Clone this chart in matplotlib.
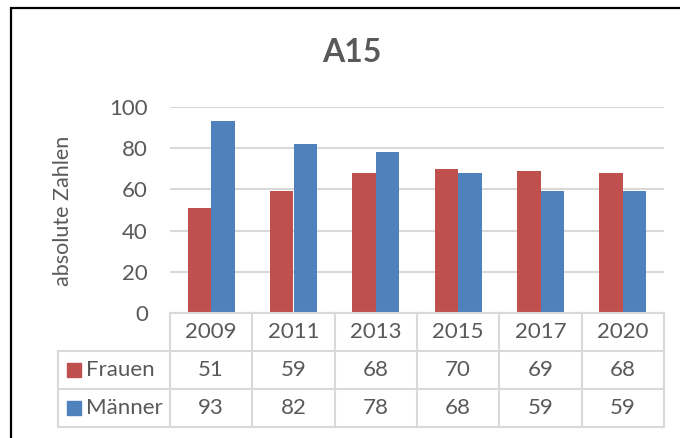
import matplotlib.pyplot as plt
from matplotlib.patches import Rectangle

years = ["2009", "2011", "2013", "2015", "2017", "2020"]
frauen = [51, 59, 68, 70, 69, 68]
maenner = [93, 82, 78, 68, 59, 59]
series_names = ["Frauen", "Männer"]

RED = "#C0504D"
BLUE = "#4F81BD"
GRID = "#D9D9D9"
TXT = "#595959"
FS = 16

plt.rcParams["font.family"] = ["Lato", "DejaVu Sans"]

W, H = 680, 438
fig = plt.figure(figsize=(W / 100, H / 100), dpi=100)


def px_box(x0, y0, x1, y1):
    # pixel box (top-left origin) -> figure fraction [l, b, w, h]
    return [x0 / W, (H - y1) / H, (x1 - x0) / W, (y1 - y0) / H]


# outer frame
fig.add_artist(Rectangle((11 / W, -0.2), 1.2, (H - 8) / H + 0.2,
                         transform=fig.transFigure, fill=False,
                         edgecolor="black", linewidth=1.6))

fig.text(352 / W, 1 - 53 / H, "A15", ha="center", va="center",
         fontsize=23, fontweight="bold", color=TXT)

# ---- bars ----
ax = fig.add_axes(px_box(170, 107, 664, 313))
x = list(range(len(years)))
bw = 0.286
ax.bar([i - bw / 2 for i in x], frauen, width=bw, color=RED, zorder=2)
ax.bar([i + bw / 2 for i in x], maenner, width=bw, color=BLUE, zorder=2)
ax.set_xlim(-0.5, len(years) - 0.5)
ax.set_ylim(0, 100)
ax.set_yticks(range(0, 101, 20))
ax.set_xticks([])
ax.tick_params(axis="y", length=0, pad=16, labelsize=FS, labelcolor=TXT)
ax.grid(axis="y", color=GRID, linewidth=1.5, zorder=0)
for s in ax.spines.values():
    s.set_visible(False)

fig.text(63 / W, 1 - 211 / H, "absolute Zahlen", rotation=90,
         ha="center", va="center", fontsize=15.5, color=TXT)

# ---- data table ----
cat_px = 494 / len(years)
leg_w = 112 / cat_px
tab = fig.add_axes(px_box(58, 313, 664, 427))
tab.set_xlim(-0.5 - leg_w, len(years) - 0.5)
tab.set_ylim(3, 0)
tab.axis("off")

left = -0.5 - leg_w
right = len(years) - 0.5
lw = 1.5
kw = dict(color=GRID, linewidth=lw, clip_on=False)
tab.plot([-0.5, right], [0, 0], **kw)
for r in (1, 2, 3):
    tab.plot([left, right], [r, r], **kw)
for i in range(len(years) + 1):
    tab.plot([i - 0.5, i - 0.5], [0, 3], **kw)
tab.plot([left, left], [1, 3], **kw)

for i, yr in enumerate(years):
    tab.text(i, 0.5, yr, ha="center", va="center", fontsize=FS, color=TXT)
for r, (vals, col, name) in enumerate(
        [(frauen, RED, series_names[0]), (maenner, BLUE, series_names[1])], start=1):
    for i, v in enumerate(vals):
        tab.text(i, r + 0.5, str(v), ha="center", va="center",
                 fontsize=FS, color=TXT)
    sq_w = 14 / cat_px
    tab.add_patch(Rectangle((left + 9 / cat_px, r + 0.5 - 0.18), sq_w, 0.36,
                            color=col, clip_on=False))
    tab.text(left + 28 / cat_px, r + 0.5, name, ha="left", va="center",
             fontsize=FS, color=TXT)

fig.savefig("out.png", dpi=100)
